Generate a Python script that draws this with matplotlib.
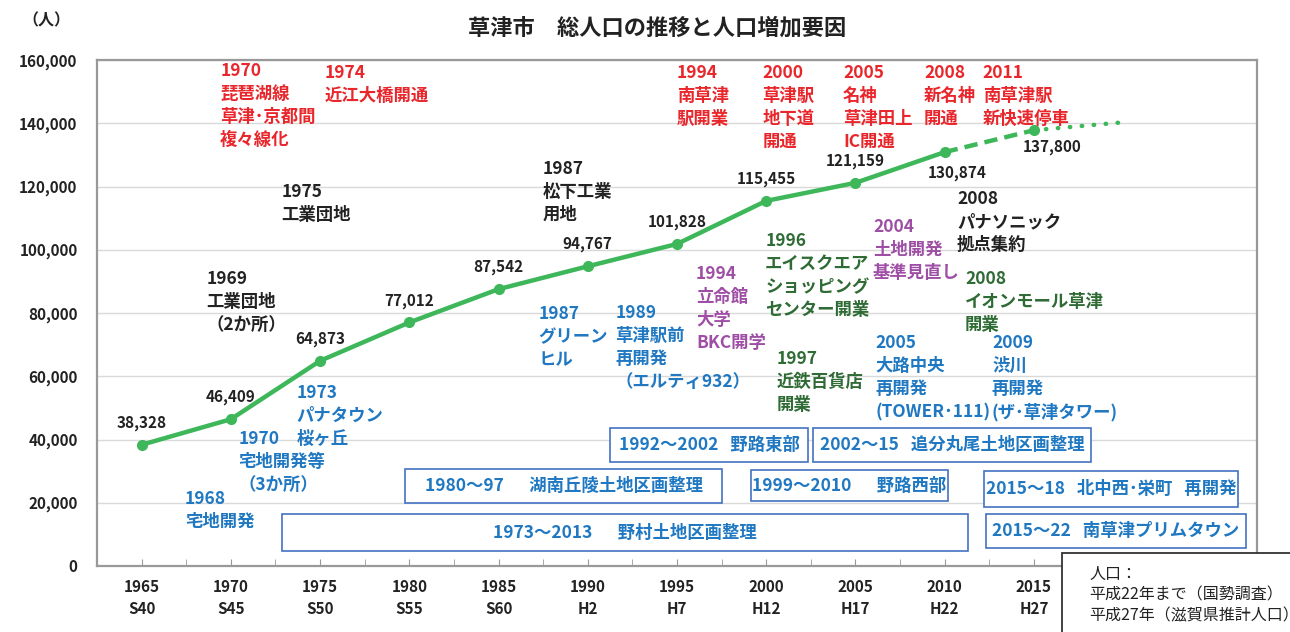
"""草津市 総人口の推移と人口増加要因 - line chart with annotations."""
import matplotlib
matplotlib.use("Agg")
import matplotlib.pyplot as plt
from matplotlib.patches import Rectangle

plt.rcParams["font.family"] = ["Noto Sans CJK JP", "DejaVu Sans"]

# population (census up to 2010, estimate 2015)
years = [1965, 1970, 1975, 1980, 1985, 1990, 1995, 2000, 2005, 2010]
population = [38328, 46409, 64873, 77012, 87542, 94767, 101828, 115455, 121159, 130874]
est_years = [2010, 2015]
est_population = [130874, 137800]
proj_years = [2015, 2020]
proj_population = [137800, 140300]

tick_years = [1965, 1970, 1975, 1980, 1985, 1990, 1995, 2000, 2005, 2010, 2015, 2020, 2025]
tick_labels = ["1965\nS40", "1970\nS45", "1975\nS50", "1980\nS55", "1985\nS60",
               "1990\nH2", "1995\nH7", "2000\nH12", "2005\nH17", "2010\nH22",
               "2015\nH27", "", ""]

RED = "#E8262B"
BLACK = "#222222"
BLUE = "#1F78C1"
PURPLE = "#9E4FA5"
DGREEN = "#2F6B34"
LINE = "#3DB75A"

# (x year, top y, text, color)
notes = [
    (1969.4, 159400, "1970\n琵琶湖線\n草津･京都間\n複々線化", RED),
    (1975.25, 158700, "1974\n近江大橋開通", RED),
    (1995.0, 158700, "1994\n南草津\n駅開業", RED),
    (1999.77, 158700, "2000\n草津駅\n地下道\n開通", RED),
    (2004.31, 158700, "2005\n名神\n草津田上\nIC開通", RED),
    (2008.84, 158700, "2008\n新名神\n開通", RED),
    (2012.14, 158700, "2011\n南草津駅\n新快速停車", RED),
    (1972.84, 121100, "1975\n工業団地", BLACK),
    (1987.45, 128400, "1987\n松下工業\n用地", BLACK),
    (1968.64, 93600, "1969\n工業団地\n（2か所）", BLACK),
    (2010.69, 118900, "2008\nパナソニック\n拠点集約", BLACK),
    (1973.68, 57500, "1973\nパナタウン\n桜ヶ丘", BLUE),
    (1970.43, 43000, "1970\n宅地開発等\n（3か所）", BLUE),
    (1967.41, 24000, "1968\n宅地開発", BLUE),
    (1987.23, 82500, "1987\nグリーン\nヒル", BLUE),
    (1991.54, 82800, "1989\n草津駅前\n再開発\n（エルティ932）", BLUE),
    (2006.10, 73400, "2005\n大路中央\n再開発\n(TOWER･111)", BLUE),
    (2012.65, 73400, "2009\n渋川\n再開発\n(ザ･草津タワー)", BLUE),
    (1996.07, 95200, "1994\n立命館\n大学\nBKC開学", PURPLE),
    (2005.99, 110000, "2004\n土地開発\n基準見直し", PURPLE),
    (1999.94, 105600, "1996\nエイスクエア\nショッピング\nセンター開業", DGREEN),
    (2000.61, 68300, "1997\n近鉄百貨店\n開業", DGREEN),
    (2011.14, 93600, "2008\nイオンモール草津\n開業", DGREEN),
]

# land readjustment boxes: (x0, x1, y0, y1, text)
projects = [
    (1991.26, 2002.35, 32900, 43600, "1992〜2002   野路東部"),
    (2002.63, 2018.19, 32900, 43600, "2002〜15   追分丸尾土地区画整理"),
    (1979.78, 1997.53, 19900, 30700, "1980〜97　  湖南丘陵土地区画整理"),
    (1999.13, 2010.18, 20550, 30350, "1999〜2010　  野路西部"),
    (2012.2, 2026.42, 18650, 30050, "2015〜18   北中西･栄町   再開発"),
    (1972.84, 2011.3, 4750, 16450, "1973〜2013　  野村土地区画整理"),
    (2012.31, 2026.87, 5700, 16450, "2015〜22   南草津プリムタウン"),
]

fig = plt.figure(figsize=(12.9, 6.32), dpi=100)
ax = fig.add_axes([97 / 1290, 66 / 632, 1160 / 1290, 506 / 632])

ax.plot(years, population, color=LINE, lw=3.2, marker="o", ms=7, zorder=4)
ax.plot(est_years, est_population, color=LINE, lw=3.2, ls=(0, (3, 1.6)), zorder=4)
ax.plot([2015], [137800], color=LINE, marker="o", ms=7, zorder=4)
ax.plot(proj_years, proj_population, color=LINE, lw=3.2, ls=(0, (0.1, 2.6)),
        dash_capstyle="round", zorder=4)

# value labels
for x, y in zip(years[:-1], population[:-1]):
    ax.annotate(f"{y:,}", (x, y), xytext=(0, 10), textcoords="offset points",
                ha="center", va="bottom", fontsize=11, fontweight="bold", color=BLACK)
ax.annotate(f"{130874:,}", (2010, 130874), xytext=(9, -9), textcoords="offset points",
            ha="center", va="top", fontsize=11, fontweight="bold", color=BLACK)
ax.annotate(f"{137800:,}", (2015, 137800), xytext=(13, -6), textcoords="offset points",
            ha="center", va="top", fontsize=11, fontweight="bold", color=BLACK)

for x, y, txt, c in notes:
    ax.text(x, y, txt, ha="left", va="top", fontsize=12.5, fontweight="bold",
            color=c, linespacing=1.36, zorder=5)

for x0, x1, y0, y1, txt in projects:
    ax.add_patch(Rectangle((x0, y0), x1 - x0, y1 - y0, facecolor="white",
                           edgecolor="#4472C4", lw=1.2, zorder=3))
    ax.text((x0 + x1) / 2, (y0 + y1) / 2, txt, ha="center", va="center",
            fontsize=12.5, fontweight="bold", color=BLUE, zorder=5)

ax.set_xlim(1962.5, 2027.5)
ax.set_ylim(0, 160000)
ax.set_yticks(range(0, 160001, 20000))
ax.yaxis.set_major_formatter(plt.FuncFormatter(lambda v, _: f"{v:,.0f}"))
ax.set_xticks(tick_years)
ax.set_xticklabels(tick_labels)
ax.set_xticks([y + 2.5 for y in tick_years[:-1]], minor=True)
ax.tick_params(axis="x", which="both", direction="in", length=5, color="#999999",
               labelsize=11, pad=9)
ax.tick_params(axis="y", length=0, labelsize=11, pad=14)
for lab in ax.get_xticklabels() + ax.get_yticklabels():
    lab.set_fontweight("bold")
    lab.set_color(BLACK)
for lab in ax.get_xticklabels():
    lab.set_linespacing(1.5)
ax.grid(axis="y", color="#d9d9d9", lw=1)
ax.set_axisbelow(True)
for s in ax.spines.values():
    s.set_color("#999999")
    s.set_linewidth(1.6)

fig.text(657 / 1290, 1 - 28 / 632, "草津市　総人口の推移と人口増加要因", ha="center",
         va="center", fontsize=16, fontweight="bold", color=BLACK)
fig.text(22 / 1290, 1 - 20 / 632, "（人）", ha="left", va="center", fontsize=11.5,
         fontweight="bold", color=BLACK)

# source note box (runs off the right/bottom edge)
fig.patches.append(Rectangle((1062 / 1290, -0.05), 0.3, (632 - 553) / 632 + 0.05,
                             transform=fig.transFigure, facecolor="white",
                             edgecolor="#333333", lw=1.3, zorder=10))
fig.text(1089 / 1290, 1 - 566 / 632, "人口：\n平成22年まで（国勢調査）\n平成27年（滋賀県推計人口）",
         ha="left", va="top", fontsize=11.5, color=BLACK, linespacing=1.3, zorder=11)

fig.savefig("out.png", dpi=100)
